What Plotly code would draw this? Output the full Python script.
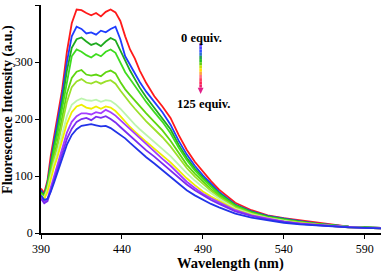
import plotly.graph_objects as go

wavelength = [390, 392, 394, 396, 398, 400, 403, 406, 409, 412, 415, 418, 421, 424, 427, 430,
              433, 436, 439, 442, 445, 448, 451, 455, 460, 465, 470, 475, 480, 485, 490, 495,
              500, 510, 520, 530, 540, 550, 560, 570, 580, 590, 600]

s_red = [78, 70, 92, 135, 168, 200, 250, 318, 368, 392, 391, 386, 382, 386, 380, 388,
         392, 387, 372, 345, 322, 306, 285, 263, 240, 222, 202, 172, 146, 125, 107, 91,
         76, 53, 40, 31, 26, 22, 18, 14, 11, 10, 9]
s_blue = [75, 66, 88, 128, 160, 192, 240, 300, 345, 362, 358, 350, 352, 348, 355, 352,
          358, 362, 340, 310, 295, 280, 265, 248, 230, 212, 190, 162, 138, 118, 101, 86,
          72, 50, 38, 30, 25, 21, 17, 14, 11, 10, 9]
s_green = [72, 66, 86, 122, 152, 180, 228, 285, 325, 340, 343, 336, 330, 333, 328, 336,
           342, 338, 320, 300, 285, 270, 255, 238, 220, 202, 182, 155, 132, 113, 97, 83,
           70, 49, 37, 29, 24, 20, 16, 13, 11, 10, 9]
s_lime = [70, 64, 84, 118, 146, 172, 218, 270, 310, 322, 318, 312, 308, 314, 310, 318,
          322, 316, 300, 282, 270, 258, 245, 230, 212, 195, 175, 150, 128, 110, 95, 81,
          68, 48, 36, 28, 23, 19, 16, 13, 11, 10, 9]
s_green2 = [68, 63, 80, 110, 135, 158, 200, 245, 272, 283, 286, 278, 276, 278, 275, 282,
            285, 280, 265, 252, 242, 232, 222, 210, 195, 180, 162, 140, 120, 104, 90, 77,
            65, 46, 35, 27, 22, 19, 15, 12, 10, 9, 8]
s_ygreen = [67, 62, 78, 106, 130, 150, 188, 230, 256, 266, 270, 264, 262, 266, 262, 266,
            268, 262, 250, 238, 228, 218, 208, 196, 182, 168, 152, 132, 114, 99, 86, 74,
            63, 45, 34, 27, 22, 18, 15, 12, 10, 9, 8]
s_pale = [66, 62, 76, 100, 122, 140, 172, 205, 225, 232, 236, 233, 232, 234, 230, 233,
          232, 226, 218, 208, 198, 190, 182, 172, 160, 148, 135, 120, 105, 92, 80, 70,
          60, 43, 33, 26, 21, 17, 14, 12, 10, 9, 8]
s_yellow = [64, 60, 72, 95, 115, 132, 162, 192, 212, 222, 225, 220, 218, 222, 218, 222,
            220, 214, 205, 195, 186, 178, 170, 160, 148, 136, 124, 110, 96, 84, 73, 64,
            56, 41, 32, 25, 20, 17, 14, 12, 10, 9, 8]
s_violet = [62, 54, 60, 80, 100, 118, 148, 176, 195, 205, 210, 210, 208, 212, 210, 216,
            212, 206, 198, 190, 182, 174, 166, 155, 143, 130, 118, 104, 90, 79, 69, 61,
            54, 40, 31, 25, 20, 17, 14, 12, 10, 9, 8]
s_purple = [60, 52, 56, 74, 92, 110, 138, 165, 183, 195, 200, 202, 198, 204, 202, 205,
            200, 194, 186, 178, 170, 162, 155, 145, 134, 122, 110, 97, 85, 75, 66, 58,
            51, 38, 30, 24, 20, 16, 14, 12, 10, 9, 8]
s_blue2 = [66, 58, 60, 72, 88, 104, 130, 155, 172, 182, 188, 190, 191, 189, 187, 188,
           184, 178, 172, 166, 158, 150, 142, 133, 122, 110, 98, 86, 75, 66, 58, 51,
           45, 34, 27, 22, 18, 15, 13, 11, 10, 9, 8]

series = [s_red, s_blue, s_green, s_lime, s_green2, s_ygreen, s_pale, s_yellow,
          s_violet, s_purple, s_blue2]
colors = ["#ff1a1a", "#1f3cff", "#1faa1f", "#3fdc1f", "#5fd610", "#9be02a", "#bdf5ad",
          "#eeee00", "#a43cff", "#7a2cf0", "#2233e8"]

x_ticks = [390, 440, 490, 540, 590]
y_ticks = [0, 100, 200, 300, 400]

FONT = "Liberation Serif"

fig = go.Figure()
for ys, c in zip(series, colors):
    fig.add_trace(go.Scatter(x=wavelength, y=ys, mode="lines",
                             line=dict(color=c, width=1.8), showlegend=False))

# gradient arrow (legend)
grad = ["#6a3cff", "#4a44ff", "#3050ff", "#2a70d0", "#22a050", "#22c020", "#60d010",
        "#c8e000", "#ffe000", "#ffa040", "#ff7080", "#ff4060", "#ff2050", "#f0206a"]
top, bottom = 333, 255
step = (top - bottom) / len(grad)
for i, c in enumerate(grad):
    fig.add_shape(type="rect", xref="x", yref="y",
                  x0=487.8, x1=489.4, y0=top - (i + 1) * step, y1=top - i * step,
                  fillcolor=c, line=dict(width=0), layer="above")
fig.add_shape(type="path", xref="x", yref="y",
              path="M 486.8 255 L 490.4 255 L 488.6 244 Z",
              fillcolor="#e0208a", line=dict(width=0), layer="above")

fig.add_annotation(x=489, y=342, text="<b>0 equiv.</b>", showarrow=False,
                   xanchor="center", yanchor="middle",
                   font=dict(family=FONT, size=12.5, color="black"))
fig.add_annotation(x=490.5, y=226, text="<b>125 equiv.</b>", showarrow=False,
                   xanchor="center", yanchor="middle",
                   font=dict(family=FONT, size=12.5, color="black"))

# axis titles
fig.add_annotation(xref="paper", yref="paper", x=0.556, y=-0.132,
                   xanchor="center", yanchor="middle",
                   text="<b>Wavelength (nm)</b>", showarrow=False,
                   font=dict(family=FONT, size=14.5, color="black"))
fig.add_annotation(xref="paper", yref="paper", x=-0.097, y=0.54, textangle=-90,
                   xanchor="center", yanchor="middle",
                   text="<b>Fluorescence Intensity (a.u.)</b>", showarrow=False,
                   font=dict(family=FONT, size=14, color="black"))

fig.update_layout(
    width=384, height=274,
    margin=dict(l=41, r=3, t=5, b=41, autoexpand=False),
    plot_bgcolor="white", paper_bgcolor="white",
    font=dict(family=FONT, size=12, color="black"),
    xaxis=dict(range=[390, 600], tickvals=x_ticks, showgrid=False, zeroline=False,
               showline=True, linecolor="black", linewidth=1.5, ticks="outside",
               ticklen=4, tickcolor="black", automargin=False),
    yaxis=dict(range=[0, 400], tickvals=y_ticks, showgrid=False, zeroline=False,
               showline=True, linecolor="black", linewidth=1.5, ticks="outside",
               ticklen=4, tickcolor="black", automargin=False),
)

fig.write_html("out.html", config={"displayModeBar": False},
               post_script="document.body.style.margin='0';document.body.style.overflow='hidden';")
